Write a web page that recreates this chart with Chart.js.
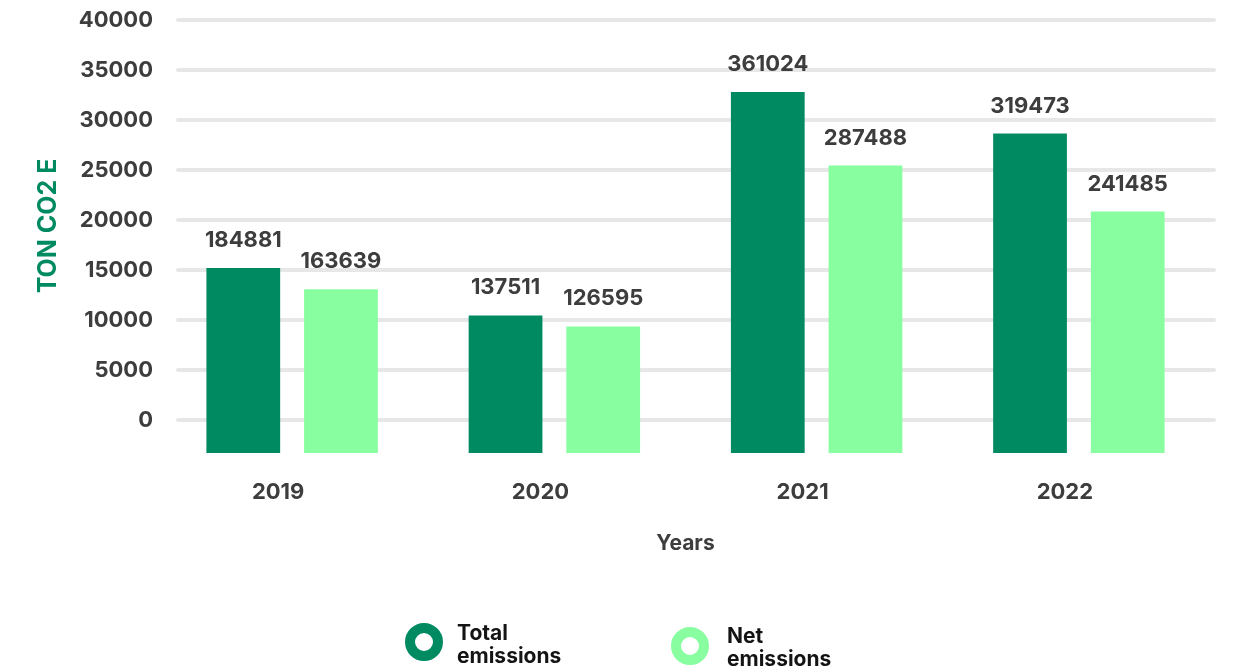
<!DOCTYPE html>
<html>
<head>
<meta charset="utf-8">
<script src="https://cdn.jsdelivr.net/npm/chart.js@4"></script>
<style>
  html, body { margin: 0; padding: 0; background: #fff; }
  #wrap { width: 1241px; height: 672px; }
</style>
</head>
<body>
<div id="wrap"><canvas id="myChart" width="1241" height="672"></canvas></div>
<script>
// emissions per year, tonnes
const years = ['2019', '2020', '2021', '2022'];
const totalEmissions = [184881, 137511, 361024, 319473];
const netEmissions = [163639, 126595, 287488, 241485];
const axisTicks = [0, 5000, 10000, 15000, 20000, 25000, 30000, 35000, 40000];
const yTitle = 'TON CO2 E';

const darkGreen = '#008a62';
const lightGreen = '#88fea0';
const tickColor = '#3d3d3d';
const fontFamily = 'Inter, "Open Sans", sans-serif';

// horizontal guide lines behind the bars
const gridLines = {
  id: 'gridLines',
  beforeDatasetsDraw(chart) {
    const ctx = chart.ctx;
    const y = chart.scales.y;
    ctx.save();
    ctx.strokeStyle = '#e7e7e7';
    ctx.lineWidth = 4;
    ctx.lineCap = 'round';
    y.ticks.forEach(t => {
      const py = Math.round(y.getPixelForValue(t.value));
      ctx.beginPath();
      ctx.moveTo(178, py);
      ctx.lineTo(1214, py);
      ctx.stroke();
    });
    ctx.restore();
  }
};

// rotated unit title left of the axis
const unitTitle = {
  id: 'unitTitle',
  afterDraw(chart) {
    const ctx = chart.ctx;
    ctx.save();
    ctx.translate(48, 226);
    ctx.rotate(-Math.PI / 2);
    ctx.font = 'bold 25px ' + fontFamily;
    ctx.fillStyle = darkGreen;
    ctx.textAlign = 'center';
    ctx.textBaseline = 'middle';
    ctx.fillText(yTitle, 0, 0);
    ctx.restore();
  }
};

// value printed above every bar
const barValues = {
  id: 'barValues',
  afterDatasetsDraw(chart) {
    const ctx = chart.ctx;
    ctx.save();
    ctx.font = 'bold 22px ' + fontFamily;
    ctx.fillStyle = tickColor;
    ctx.textAlign = 'center';
    ctx.textBaseline = 'alphabetic';
    chart.data.datasets.forEach((ds, i) => {
      chart.getDatasetMeta(i).data.forEach((bar, j) => {
        ctx.fillText(String(ds.data[j]), bar.x, bar.y - 21);
      });
    });
    ctx.restore();
  }
};

// ring markers with two line labels
const ringLegend = {
  id: 'ringLegend',
  afterDraw(chart) {
    const ctx = chart.ctx;
    const spots = [
      { cx: 424, cy: 642, tx: 457, ty: 640 },
      { cx: 690, cy: 646, tx: 727, ty: 643 }
    ];
    ctx.save();
    chart.data.datasets.forEach((ds, i) => {
      const s = spots[i];
      ctx.beginPath();
      ctx.arc(s.cx, s.cy, 14, 0, Math.PI * 2);
      ctx.lineWidth = 10;
      ctx.strokeStyle = ds.backgroundColor;
      ctx.stroke();
      ctx.font = 'bold 21px ' + fontFamily;
      ctx.fillStyle = '#141414';
      ctx.textAlign = 'left';
      ctx.textBaseline = 'alphabetic';
      ds.label.split(' ').forEach((line, k) => {
        ctx.fillText(line, s.tx, s.ty + k * 23);
      });
    });
    ctx.restore();
  }
};

const data = {
  labels: years,
  datasets: [{
    label: 'Total emissions',
    data: totalEmissions,
    backgroundColor: darkGreen,
    yAxisID: 'yBars',
    categoryPercentage: 0.745,
    barPercentage: 0.755
  }, {
    label: 'Net emissions',
    data: netEmissions,
    backgroundColor: lightGreen,
    yAxisID: 'yBars',
    categoryPercentage: 0.745,
    barPercentage: 0.755
  }]
};

const config = {
  type: 'bar',
  data,
  plugins: [gridLines, barValues, unitTitle, ringLegend],
  options: {
    responsive: false,
    animation: false,
    layout: { padding: { top: 20, right: 31, bottom: 115, left: 0 } },
    plugins: {
      legend: { display: false },
      tooltip: { enabled: false }
    },
    scales: {
      x: {
        grid: { display: false },
        border: { display: false },
        ticks: {
          color: tickColor,
          font: { family: fontFamily, size: 22, weight: 'bold' },
          padding: 18,
          labelOffset: -14
        },
        title: {
          display: true,
          text: 'Years',
          color: tickColor,
          font: { family: fontFamily, size: 21, weight: 'bold' },
          padding: { top: 0, bottom: 1 }
        },
        afterFit(axis) { axis.height = 104; }
      },
      y: {
        position: 'left',
        min: -3300,
        max: 40000,
        afterBuildTicks(axis) {
          axis.ticks = axisTicks.map(v => ({ value: v }));
        },
        grid: { display: false },
        border: { display: false },
        ticks: {
          color: tickColor,
          font: { family: fontFamily, size: 22, weight: 'bold' },
          padding: 0,
          callback: v => String(v)
        },
        afterFit(axis) { axis.width = 161; }
      },
      yBars: {
        display: false,
        position: 'left',
        min: 0,
        max: 433000
      }
    }
  }
};

const myChart = new Chart(document.getElementById('myChart'), config);
</script>
</body>
</html>
